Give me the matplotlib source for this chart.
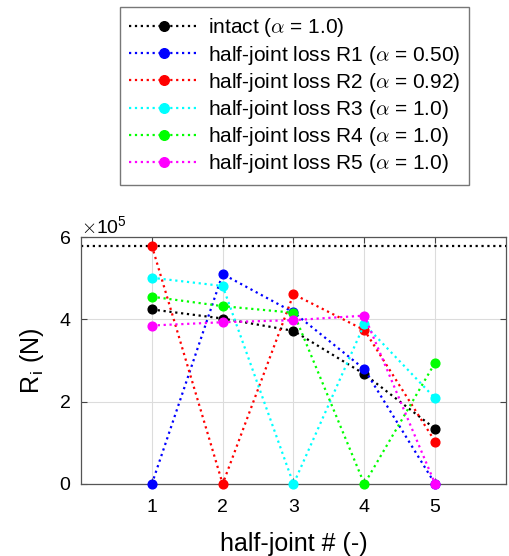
import matplotlib
matplotlib.use("Agg")
import matplotlib.pyplot as plt
from matplotlib.ticker import ScalarFormatter

plt.rcParams['font.family'] = ['Liberation Sans', 'DejaVu Sans']
plt.rcParams['mathtext.fontset'] = 'cm'

x = [1, 2, 3, 4, 5]
intact = [4.24e5, 4.02e5, 3.72e5, 2.67e5, 1.34e5]
r1 = [0, 5.10e5, 4.17e5, 2.79e5, 0]
r2 = [5.79e5, 0, 4.61e5, 3.74e5, 1.03e5]
r3 = [5.01e5, 4.81e5, 0, 3.88e5, 2.08e5]
r4 = [4.55e5, 4.32e5, 4.16e5, 0, 2.95e5]
r5 = [3.85e5, 3.93e5, 3.98e5, 4.09e5, 0]
total_capacity = 5.79e5

labels = [r'intact ($\alpha$ = 1.0)',
          r'half-joint loss R1 ($\alpha$ = 0.50)',
          r'half-joint loss R2 ($\alpha$ = 0.92)',
          r'half-joint loss R3 ($\alpha$ = 1.0)',
          r'half-joint loss R4 ($\alpha$ = 1.0)',
          r'half-joint loss R5 ($\alpha$ = 1.0)']
series = [intact, r1, r2, r3, r4, r5]
colors = ['#000000', '#0000ff', '#ff0000', '#00ffff', '#00ff00', '#ff00ff']

fig = plt.figure(figsize=(5.10, 5.56), dpi=100)
ax = fig.add_axes([81/510, 1-484/556, (506-81)/510, (484-237)/556])

ax.axhline(total_capacity, color='black', linestyle=':', linewidth=1.6, zorder=1)
handles = []
for ys, c, lab in zip(series, colors, labels):
    h, = ax.plot(x, ys, linestyle=':', color=c, linewidth=1.6,
                 marker='o', markersize=6.3, markerfacecolor=c, markeredgecolor=c,
                 label=lab, clip_on=False, zorder=3)
    handles.append(h)

ax.set_xlim(0, 6)
ax.set_ylim(0, 6e5)
ax.set_xticks([1, 2, 3, 4, 5])
ax.set_yticks([0, 2e5, 4e5, 6e5])
fmt = ScalarFormatter(useMathText=True)
fmt.set_powerlimits((0, 0))
ax.yaxis.set_major_formatter(fmt)
ax.yaxis.get_offset_text().set_fontsize(14)
ax.grid(True, color='#dcdcdc', linewidth=0.8)
ax.set_axisbelow(True)
ax.tick_params(direction='in', top=True, right=True, labelsize=14, length=4,
               color='#444444')
ax.tick_params(axis='x', pad=11)
ax.tick_params(axis='y', pad=7)
for s in ax.spines.values():
    s.set_color('#555555')
    s.set_linewidth(0.9)

ax.set_xlabel('half-joint # (-)', fontsize=18, labelpad=11)
ax.set_ylabel(r'R$_\mathregular{i}$ (N)', fontsize=18, labelpad=9)

leg = fig.legend(handles=handles, loc='upper left',
                 bbox_to_anchor=(120/510, 1-7/556), borderaxespad=0,
                 fontsize=15, markerscale=1.1,
                 handlelength=3.3, handletextpad=0.45, labelspacing=0.2,
                 borderpad=0.45, fancybox=False, frameon=True)
leg.get_frame().set_edgecolor('#555555')
leg.get_frame().set_linewidth(1.0)

fig.savefig('out.png', dpi=100)
